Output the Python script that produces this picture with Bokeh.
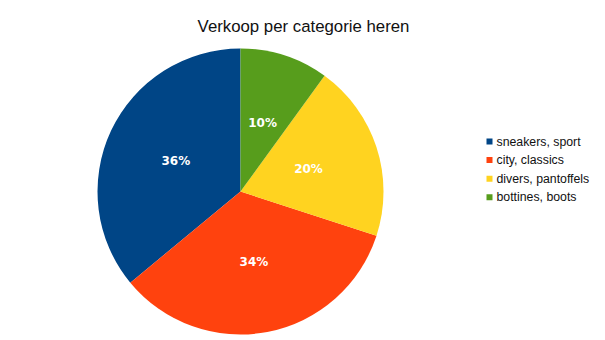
import numpy as np
from bokeh.plotting import figure
from bokeh.models import ColumnDataSource, Range1d
from bokeh.core.properties import value
from bokeh.embed import file_html
from bokeh.resources import INLINE

title = "Verkoop per categorie heren"
categories = ["sneakers, sport", "city, classics", "divers, pantoffels", "bottines, boots"]
shares = [36, 34, 20, 10]
colors = ["#004586", "#ff420e", "#ffd320", "#579d1c"]

W, H = 605, 340
cx, cy, R = 240, 340 - 191, 143

vals = np.array(shares, dtype=float)
frac = vals / vals.sum()
ends = np.pi / 2 + 2 * np.pi * np.cumsum(frac)
starts = ends - 2 * np.pi * frac
mids = (starts + ends) / 2

src = ColumnDataSource(dict(
    start=starts, end=ends, color=colors, cat=categories,
    lx=cx + 0.5 * R * np.cos(mids), ly=cy + 0.5 * R * np.sin(mids),
    lab=[f"{int(v)}%" for v in shares],
))

p = figure(width=W, height=H, output_backend="svg", toolbar_location=None,
           x_range=Range1d(0, W), y_range=Range1d(0, H), min_border=0)
p.axis.visible = False
p.grid.visible = False
p.outline_line_color = None
p.background_fill_color = "white"
p.border_fill_color = "white"

p.wedge(x=cx, y=cy, radius=R, start_angle="start", end_angle="end",
        fill_color="color", line_color=None, source=src)
p.text(x="lx", y="ly", text="lab", source=src, text_color="white",
       text_font=value("DejaVu Sans"), text_font_style="bold", text_font_size="12px",
       text_align="center", text_baseline="middle")

p.text(x=[303], y=[340 - 26], text=[title], text_font=value("Liberation Sans"),
       text_font_size="16.8px", text_color="#111111", text_align="center", text_baseline="middle")

ly = [340 - (141 + 18.6 * i) for i in range(len(categories))]
p.rect(x=[489] * 4, y=ly, width=6, height=6, fill_color=colors, line_color=None)
p.text(x=[496] * 4, y=ly, text=categories, text_font=value("Liberation Sans"),
       text_font_size="12.3px", text_color="#111111", text_align="left", text_baseline="middle")

open("out.html", "w").write(file_html(p, INLINE))
